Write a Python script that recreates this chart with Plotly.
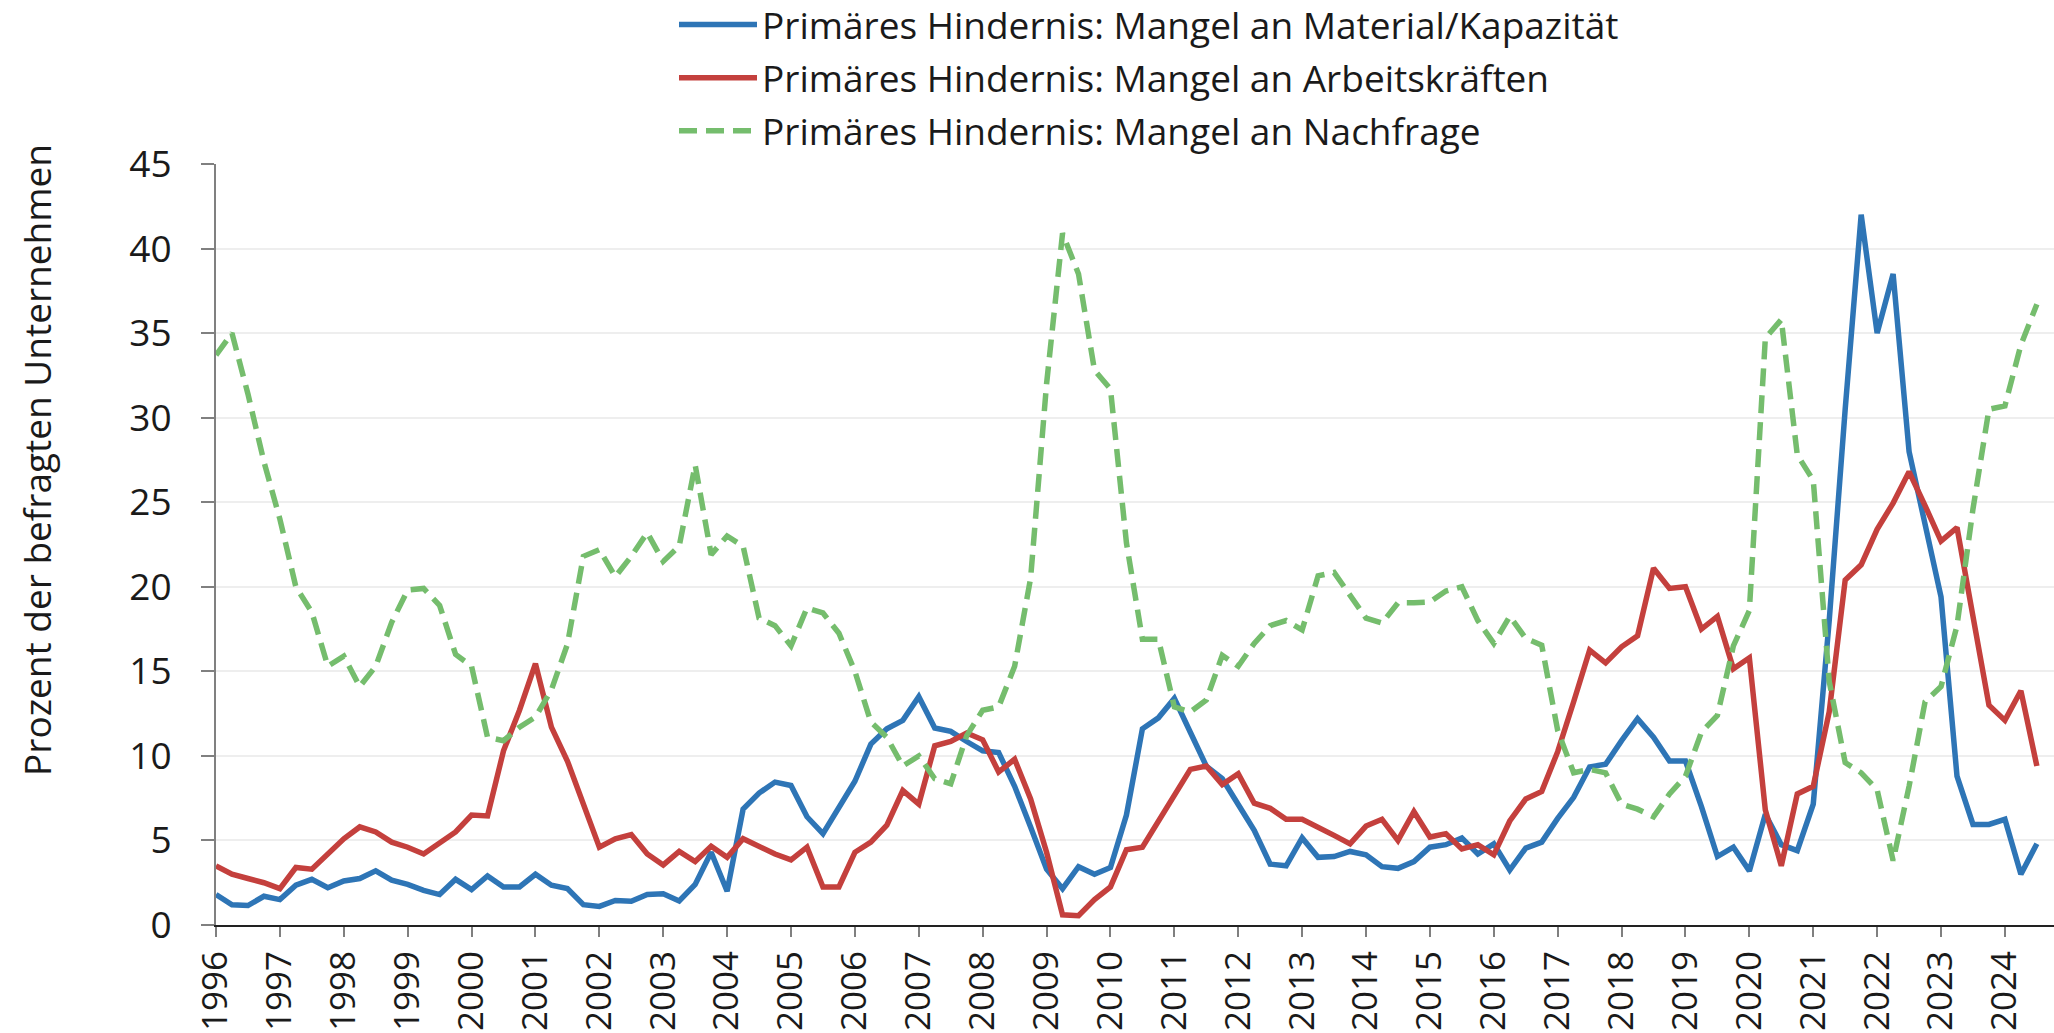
import plotly.graph_objects as go

years = list(range(1996, 2025))
quarters_x = [1996 + i * 0.25 for i in range(115)]

material = [1.8, 1.2, 1.15, 1.7,
            1.5, 2.35, 2.7, 2.2,
            2.6, 2.75, 3.2, 2.65,
            2.4, 2.05, 1.8, 2.7,
            2.1, 2.9, 2.25, 2.25,
            3.0, 2.35, 2.15, 1.2,
            1.1, 1.45, 1.4, 1.8,
            1.85, 1.42, 2.4, 4.3,
            2.0, 6.85, 7.8, 8.45,
            8.25, 6.4, 5.4, 7.0,
            8.5, 10.7, 11.6, 12.1,
            13.5, 11.65, 11.45, 10.85,
            10.3, 10.2, 8.2, 5.8,
            3.3, 2.15, 3.45, 3.0,
            3.4, 6.5, 11.6, 12.25,
            13.4, 11.4, 9.4, 8.65,
            7.15, 5.6, 3.6, 3.5,
            5.15, 4.0, 4.05, 4.35,
            4.15, 3.45, 3.35, 3.75,
            4.6, 4.75, 5.15, 4.2,
            4.8, 3.25, 4.55, 4.9,
            6.3, 7.55, 9.35, 9.5,
            10.9, 12.2, 11.1, 9.7,
            9.7, 7.0, 4.05, 4.6,
            3.2, 6.55, 4.75, 4.4,
            7.15, 18.0, 30.5, 42.0,
            35.0, 38.5, 28.0, 23.7,
            19.4, 8.8, 5.95, 5.95,
            6.25, 3.0, 4.8]

arbeit = [3.5, 3.0, 2.75, 2.5,
          2.15, 3.4, 3.3, 4.2,
          5.1, 5.8, 5.5, 4.9,
          4.6, 4.2, 4.9, 5.5,
          6.5, 6.45, 10.3, 12.7,
          15.45, 11.7, 9.7, 7.15,
          4.6, 5.1, 5.35, 4.2,
          3.55, 4.35, 3.75, 4.65,
          4.0, 5.1, 4.65, 4.2,
          3.85, 4.6, 2.25, 2.25,
          4.3, 4.9, 5.9, 7.95,
          7.15, 10.6, 10.85, 11.35,
          10.95, 9.05, 9.8, 7.45,
          4.3, 0.6, 0.55, 1.5,
          2.25, 4.45, 4.6, 6.1,
          7.75, 9.2, 9.4, 8.3,
          8.95, 7.2, 6.9, 6.25,
          6.25, 5.8, 5.3, 4.8,
          5.85, 6.25, 5.0, 6.7,
          5.2, 5.4, 4.5, 4.75,
          4.15, 6.15, 7.45, 7.9,
          10.25, 13.2, 16.25, 15.5,
          16.45, 17.1, 21.1, 19.9,
          20.0, 17.5, 18.25, 15.15,
          15.8, 6.8, 3.5, 7.75,
          8.2, 12.6, 20.4, 21.3,
          23.4, 24.95, 26.8, 24.8,
          22.7, 23.5, 18.15, 13.0,
          12.1, 13.85, 9.4]

nachfrage = [33.7, 35.0, 31.4, 27.4,
             24.0, 20.0, 18.5, 15.3,
             15.9, 14.1, 15.3, 17.9,
             19.8, 19.9, 18.9, 16.0,
             15.3, 11.1, 10.9, 11.7,
             12.3, 13.9, 16.6, 21.8,
             22.2, 20.6, 21.8, 23.2,
             21.5, 22.4, 27.2, 21.9,
             23.0, 22.4, 18.15, 17.7,
             16.5, 18.75, 18.45, 17.25,
             15.0, 12.0, 11.1, 9.4,
             10.0, 8.65, 8.35, 11.2,
             12.7, 12.9, 15.3, 20.5,
             32.0, 40.9, 38.5, 32.8,
             31.7, 22.6, 16.9, 16.9,
             12.9, 12.6, 13.3, 15.95,
             15.3, 16.65, 17.7, 18.0,
             17.45, 20.65, 20.85, 19.5,
             18.15, 17.85, 19.05, 19.05,
             19.1, 19.75, 20.0, 18.0,
             16.65, 18.25, 16.95, 16.55,
             11.5, 9.0, 9.2, 9.0,
             7.15, 6.85, 6.4, 7.75,
             8.8, 11.4, 12.4, 16.5,
             18.6, 34.7, 35.8, 27.8,
             26.3, 14.4, 9.6, 9.0,
             8.0, 3.8, 8.2, 13.2,
             14.1, 17.7, 24.6, 30.5,
             30.7, 34.3, 36.7]

names = ["Primäres Hindernis: Mangel an Material/Kapazität",
         "Primäres Hindernis: Mangel an Arbeitskräften",
         "Primäres Hindernis: Mangel an Nachfrage"]
y_ticks = [0, 5, 10, 15, 20, 25, 30, 35, 40, 45]

FONT = "Open Sans"
fig = go.Figure()
fig.add_trace(go.Scatter(x=quarters_x, y=material, mode="lines", name=names[0],
                         legendgroup="a",
                         line=dict(color="#2E75B6", width=5.5)))
fig.add_trace(go.Scatter(x=quarters_x, y=arbeit, mode="lines", name=names[1],
                         legendgroup="b",
                         line=dict(color="#C4403D", width=5.5)))
fig.add_trace(go.Scatter(x=quarters_x, y=nachfrage, mode="lines", name=names[2],
                         legendgroup="c",
                         line=dict(color="#75BD6D", width=5.5, dash="18px,9px")))

W, H = 2054, 1033
L, R, T, B = 216, 0, 164, 108
pw = W - L - R
ph = H - T - B

fig.update_layout(
    width=W, height=H,
    margin=dict(l=L, r=R, t=T, b=B, autoexpand=False),
    paper_bgcolor="white", plot_bgcolor="white",
    font=dict(family=FONT, size=37, color="#1a1a1a"),
    showlegend=True,
    legend=dict(x=(674 - L) / pw, xanchor="left",
                y=1 + (T + 6) / ph, yanchor="top",
                font=dict(family=FONT, size=37, color="#1a1a1a"),
                itemwidth=78, tracegroupgap=2,
                bgcolor="rgba(0,0,0,0)"),
    xaxis=dict(range=[1996, 1996 + pw / 63.89],
               tickmode="array", tickvals=years, ticktext=[str(y) for y in years],
               tickangle=-90, ticks="outside", ticklen=10, tickcolor="#808080",
               tickwidth=1.5,
               showline=True, linecolor="#222222", linewidth=2,
               showgrid=False, zeroline=False,
               tickfont=dict(family=FONT, size=35, color="#1a1a1a")),
    yaxis=dict(range=[0, 45], tickmode="array", tickvals=y_ticks,
               ticks="outside", ticklen=13, tickcolor="#808080", tickwidth=1.5,
               showline=True, linecolor="#808080", linewidth=2,
               showgrid=True, gridcolor="#eeeeee", gridwidth=1.5,
               zeroline=False, ticklabelstandoff=22,
               tickfont=dict(family=FONT, size=37, color="#1a1a1a")),
)

fig.add_annotation(text="Prozent der befragten Unternehmen", textangle=-90,
                   xref="paper", yref="paper",
                   x=(36 - L) / pw, y=(H - B - 460) / ph,
                   xanchor="center", yanchor="middle", showarrow=False,
                   font=dict(family=FONT, size=37, color="#1a1a1a"))

fig.write_html("out.html", config={"displayModeBar": False},
               post_script="document.body.style.margin='0';")
